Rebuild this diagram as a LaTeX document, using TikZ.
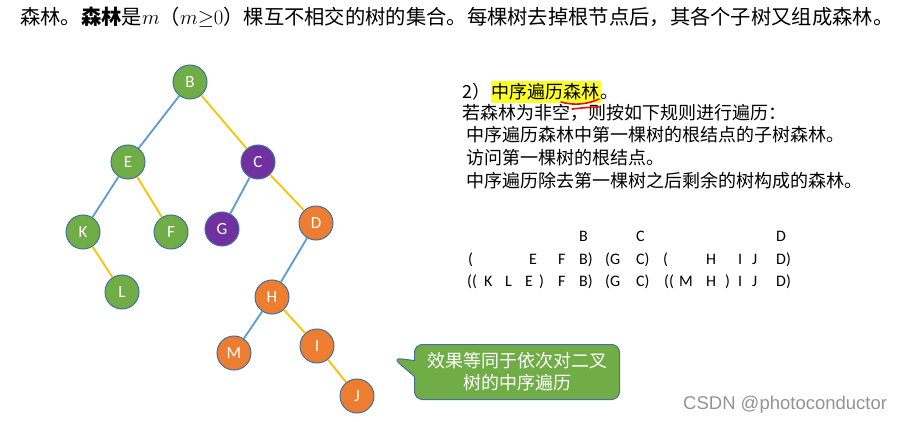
\documentclass[tikz,border=0pt]{standalone}
\usepackage{fontspec}
\setsansfont{Carlito}
\newfontfamily\cjk{Noto Sans CJK SC}
\newfontfamily\markfont{Liberation Sans}
\usepackage{tikz}
\usetikzlibrary{positioning, shapes.callouts}
\definecolor{treegreen}{RGB}{112,173,71}
\definecolor{treepurple}{RGB}{112,48,160}
\definecolor{treeorange}{RGB}{237,125,49}
\definecolor{nodeline}{RGB}{65,113,156}
\definecolor{childblue}{RGB}{91,155,213}
\definecolor{siblinggold}{RGB}{255,192,0}
\definecolor{hlyellow}{RGB}{255,255,40}
\definecolor{markred}{RGB}{215,20,20}

\begin{document}
\begin{tikzpicture}[x=1pt, y=-1pt,
  tnode/.style={circle, draw=nodeline, line width=1pt, minimum size=34pt, inner sep=0pt, text=white, font=\sffamily\fontsize{17}{17}\selectfont},
  child/.style={draw=childblue, line width=1.8pt},
  sibling/.style={draw=siblinggold, line width=1.8pt},
  txt/.style={anchor=base west, inner sep=0pt, font=\cjk\fontsize{18}{18}\selectfont},
  seq/.style={anchor=base west, inner sep=0pt, font=\sffamily\fontsize{16}{16}\selectfont},
  note/.style={rectangle callout, rounded corners=8pt, draw=nodeline, line width=1pt, fill=treegreen, text=white, align=center, minimum width=205pt, minimum height=55pt, callout pointer width=16pt, font=\cjk\fontsize{18}{22}\selectfont}
]
\useasboundingbox (0,0) rectangle (908,422);

% Definition line
\node[anchor=base west, inner sep=0pt, font=\cjk\fontsize{20.3}{20}\selectfont] (defn) at (20,25)
  {森林。\textbf{森林}是$m$（$m{\geq}0$）棵互不相交的树的集合。每棵树去掉根节点后，其各个子树又组成森林。};

% Tree
\node[tnode, fill=treegreen] (b) at (190,82) {B};
\node[tnode, fill=treegreen] (e) at (128,162) {E};
\node[tnode, fill=treepurple] (c) at (258,162) {C};
\node[tnode, fill=treegreen] (k) at (83,232) {K};
\node[tnode, fill=treegreen] (f) at (171,232) {F};
\node[tnode, fill=treepurple] (g) at (222,229) {G};
\node[tnode, fill=treeorange] (d) at (316,223) {D};
\node[tnode, fill=treegreen] (l) at (122,292) {L};
\node[tnode, fill=treeorange] (h) at (272,297) {H};
\node[tnode, fill=treeorange] (m) at (234,353) {M};
\node[tnode, fill=treeorange] (i) at (317,346) {I};
\node[tnode, fill=treeorange] (j) at (357,396) {J};

\draw[child] (b) -- (e);
\draw[sibling] (b) -- (c);
\draw[child] (e) -- (k);
\draw[sibling] (e) -- (f);
\draw[sibling] (k) -- (l);
\draw[child] (c) -- (g);
\draw[sibling] (c) -- (d);
\draw[child] (d) -- (h);
\draw[child] (h) -- (m);
\draw[sibling] (h) -- (i);
\draw[sibling] (i) -- (j);

% Rule text
\node[txt] (head) at (462,99) {2）};
\node[txt, fill=hlyellow, inner ysep=3pt, inner xsep=1pt] (hl) at (head.base east) {中序遍历森林};
\node[txt] (stop) at (hl.base east) {。};
\node[txt] (rule) at (462,120) {若森林为非空，则按如下规则进行遍历：};
\node[txt] (ra) at (466,142) {中序遍历森林中第一棵树的根结点的子树森林。};
\node[txt] (rb) at (466,165) {访问第一棵树的根结点。};
\node[txt] (rc) at (466,188) {中序遍历除去第一棵树之后剩余的树构成的森林。};

% Red marks
\draw[markred, line width=1.6pt, line cap=round] (561,102) .. controls (575,106) and (588,104) .. (599,99);
\draw[markred, line width=1.6pt, line cap=round] (572,109) .. controls (582,108) and (590,107) .. (599,107);

% Sequences
\foreach \x/\t [count=\n] in {579/B, 636/C, 776/D}
  \node[seq] (sa\n) at (\x,242) {\t};
\foreach \x/\t [count=\n] in {468/(, 529/E, 558/F, 579/B), 605/(G, 636/C), 663/(, 706/H, 738/I, 752/J, 776/D)}
  \node[seq] (sb\n) at (\x,265) {\t};
\foreach \x/\t [count=\n] in {467/((, 484/K, 505/L, 525/E, 539/), 558/F, 579/B), 605/(G, 636/C), 664/((, 679/M, 706/H, 725/), 738/I, 752/J, 776/D)}
  \node[seq] (sc\n) at (\x,287) {\t};

% Callout
\node[note, callout absolute pointer={(393,358)}] (effect) at (517,372) {效果等同于依次对二叉\\树的中序遍历};

% Watermark
\node[anchor=base west, inner sep=0pt, text=gray!85, font=\markfont\fontsize{18.5}{18}\selectfont] (wm) at (683,409) {CSDN @photoconductor};
\end{tikzpicture}
\end{document}
